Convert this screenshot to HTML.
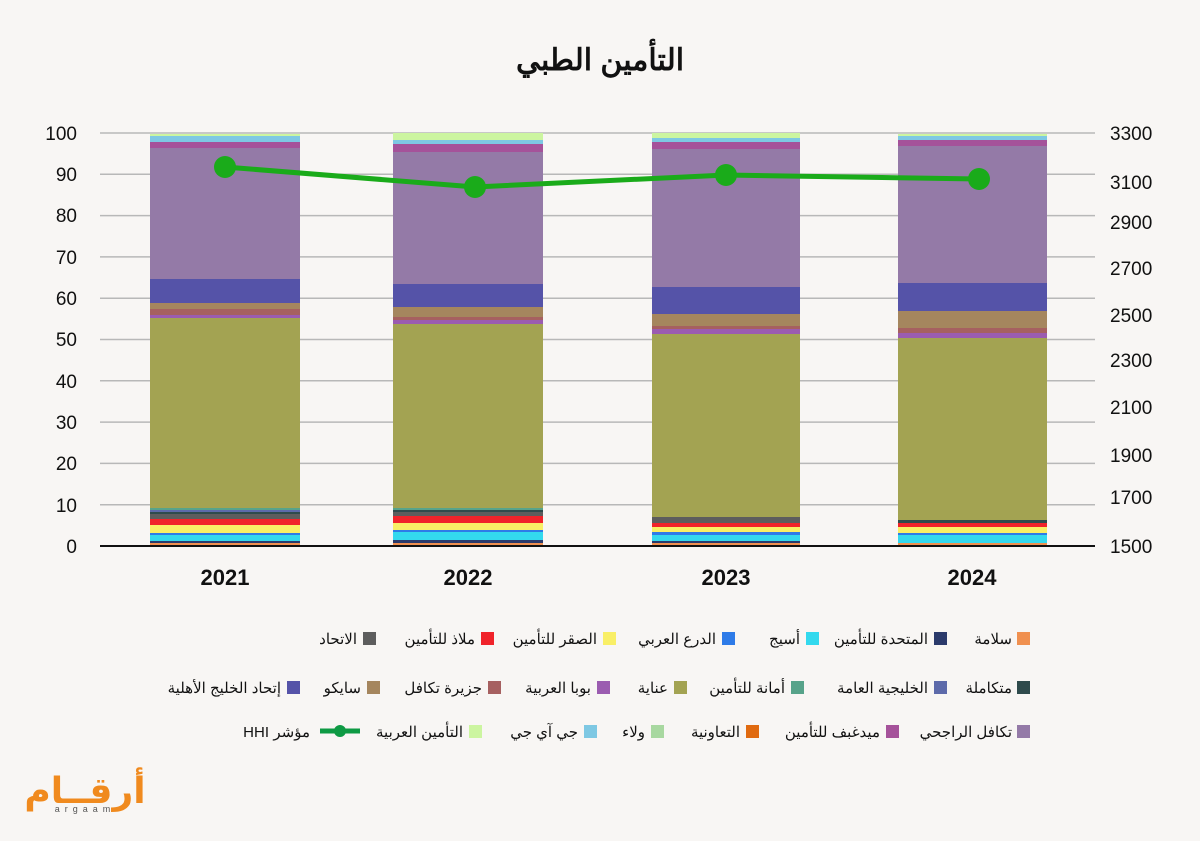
<!DOCTYPE html>
<html><head><meta charset="utf-8"><style>
body{margin:0;background:#f8f6f4;}
svg{display:block;font-family:"Liberation Sans","Noto Sans CJK SC",sans-serif;}
</style></head><body>
<svg width="1200" height="841" viewBox="0 0 1200 841" xmlns="http://www.w3.org/2000/svg">
<rect width="1200" height="841" fill="#f8f6f4"/>
<text x="600" y="70" text-anchor="middle" font-size="30" font-weight="bold" fill="#111">التأمين الطبي</text>
<g stroke="#b8b8b8" stroke-width="1.5">
<line x1="100" x2="1095" y1="133" y2="133"/><line x1="100" x2="1095" y1="174.3" y2="174.3"/><line x1="100" x2="1095" y1="215.6" y2="215.6"/><line x1="100" x2="1095" y1="256.9" y2="256.9"/><line x1="100" x2="1095" y1="298.2" y2="298.2"/><line x1="100" x2="1095" y1="339.5" y2="339.5"/><line x1="100" x2="1095" y1="380.8" y2="380.8"/><line x1="100" x2="1095" y1="422.1" y2="422.1"/><line x1="100" x2="1095" y1="463.4" y2="463.4"/><line x1="100" x2="1095" y1="504.7" y2="504.7"/>
</g>
<g font-size="19" fill="#111" text-anchor="end">
<text x="77" y="140">100</text><text x="77" y="181">90</text><text x="77" y="222">80</text><text x="77" y="264">70</text><text x="77" y="305">60</text><text x="77" y="346">50</text><text x="77" y="388">40</text><text x="77" y="429">30</text><text x="77" y="470">20</text><text x="77" y="512">10</text><text x="77" y="553">0</text>
</g>
<g font-size="19" fill="#111">
<text x="1110" y="140">3300</text><text x="1110" y="189">3100</text><text x="1110" y="229">2900</text><text x="1110" y="275">2700</text><text x="1110" y="322">2500</text><text x="1110" y="367">2300</text><text x="1110" y="414">2100</text><text x="1110" y="462">1900</text><text x="1110" y="504">1700</text><text x="1110" y="553">1500</text>
</g>
<g>
<rect x="150" width="150" y="543" height="3" fill="#f0904f"/>
<rect x="150" width="150" y="541" height="2" fill="#2b3a6b"/>
<rect x="150" width="150" y="535" height="6" fill="#33d9ee"/>
<rect x="150" width="150" y="533" height="2" fill="#2e7be8"/>
<rect x="150" width="150" y="525" height="8" fill="#f9ef66"/>
<rect x="150" width="150" y="519" height="6" fill="#f0232a"/>
<rect x="150" width="150" y="514" height="5" fill="#5d5d5d"/>
<rect x="150" width="150" y="512" height="2" fill="#2f4b4c"/>
<rect x="150" width="150" y="510" height="2" fill="#5d6aaa"/>
<rect x="150" width="150" y="508" height="2" fill="#57a38a"/>
<rect x="150" width="150" y="318" height="190" fill="#a3a352"/>
<rect x="150" width="150" y="315" height="3" fill="#9b5cb0"/>
<rect x="150" width="150" y="309" height="6" fill="#a66060"/>
<rect x="150" width="150" y="303" height="6" fill="#a5865e"/>
<rect x="150" width="150" y="279" height="24" fill="#5553a8"/>
<rect x="150" width="150" y="148" height="131" fill="#947aa7"/>
<rect x="150" width="150" y="142" height="6" fill="#a5529a"/>
<rect x="150" width="150" y="136" height="6" fill="#7ec8e3"/>
<rect x="150" width="150" y="134" height="2" fill="#ccf5a0"/>
</g>
<g>
<rect x="393" width="150" y="543" height="3" fill="#f0904f"/>
<rect x="393" width="150" y="540" height="3" fill="#2b3a6b"/>
<rect x="393" width="150" y="532" height="8" fill="#33d9ee"/>
<rect x="393" width="150" y="530" height="2" fill="#2e7be8"/>
<rect x="393" width="150" y="523" height="7" fill="#f9ef66"/>
<rect x="393" width="150" y="516" height="7" fill="#f0232a"/>
<rect x="393" width="150" y="512" height="4" fill="#5d5d5d"/>
<rect x="393" width="150" y="510" height="2" fill="#2f4b4c"/>
<rect x="393" width="150" y="508" height="2" fill="#57a38a"/>
<rect x="393" width="150" y="324" height="184" fill="#a3a352"/>
<rect x="393" width="150" y="320" height="4" fill="#9b5cb0"/>
<rect x="393" width="150" y="317" height="3" fill="#a66060"/>
<rect x="393" width="150" y="307" height="10" fill="#a5865e"/>
<rect x="393" width="150" y="284" height="23" fill="#5553a8"/>
<rect x="393" width="150" y="152" height="132" fill="#947aa7"/>
<rect x="393" width="150" y="144" height="8" fill="#a5529a"/>
<rect x="393" width="150" y="140" height="4" fill="#7ec8e3"/>
<rect x="393" width="150" y="133" height="7" fill="#ccf5a0"/>
</g>
<g>
<rect x="652" width="148" y="543" height="3" fill="#f0904f"/>
<rect x="652" width="148" y="541" height="2" fill="#2b3a6b"/>
<rect x="652" width="148" y="535" height="6" fill="#33d9ee"/>
<rect x="652" width="148" y="532" height="3" fill="#2e7be8"/>
<rect x="652" width="148" y="527" height="5" fill="#f9ef66"/>
<rect x="652" width="148" y="523" height="4" fill="#f0232a"/>
<rect x="652" width="148" y="517" height="6" fill="#5d5d5d"/>
<rect x="652" width="148" y="334" height="183" fill="#a3a352"/>
<rect x="652" width="148" y="329" height="5" fill="#9b5cb0"/>
<rect x="652" width="148" y="326" height="3" fill="#a66060"/>
<rect x="652" width="148" y="314" height="12" fill="#a5865e"/>
<rect x="652" width="148" y="287" height="27" fill="#5553a8"/>
<rect x="652" width="148" y="149" height="138" fill="#947aa7"/>
<rect x="652" width="148" y="142" height="7" fill="#a5529a"/>
<rect x="652" width="148" y="138" height="4" fill="#7ec8e3"/>
<rect x="652" width="148" y="133" height="5" fill="#ccf5a0"/>
</g>
<g>
<rect x="898" width="149" y="543" height="3" fill="#f0904f"/>
<rect x="898" width="149" y="535" height="8" fill="#33d9ee"/>
<rect x="898" width="149" y="533" height="2" fill="#2e7be8"/>
<rect x="898" width="149" y="527" height="6" fill="#f9ef66"/>
<rect x="898" width="149" y="523" height="4" fill="#f0232a"/>
<rect x="898" width="149" y="520" height="3" fill="#2f4b4c"/>
<rect x="898" width="149" y="338" height="182" fill="#a3a352"/>
<rect x="898" width="149" y="333" height="5" fill="#9b5cb0"/>
<rect x="898" width="149" y="328" height="5" fill="#a66060"/>
<rect x="898" width="149" y="311" height="17" fill="#a5865e"/>
<rect x="898" width="149" y="283" height="28" fill="#5553a8"/>
<rect x="898" width="149" y="146" height="137" fill="#947aa7"/>
<rect x="898" width="149" y="140" height="6" fill="#a5529a"/>
<rect x="898" width="149" y="136" height="4" fill="#7ec8e3"/>
<rect x="898" width="149" y="134" height="2" fill="#ccf5a0"/>
</g>
<line x1="100" x2="1095" y1="546" y2="546" stroke="#111" stroke-width="2"/>
<polyline points="225,167 475,187 726,175 979,179" fill="none" stroke="#1aab1a" stroke-width="5"/>
<g fill="#1aab1a"><circle cx="225" cy="167" r="11"/><circle cx="475" cy="187" r="11"/><circle cx="726" cy="175" r="11"/><circle cx="979" cy="179" r="11"/></g>
<g font-size="22" font-weight="bold" fill="#111" text-anchor="middle">
<text x="225" y="585">2021</text><text x="468" y="585">2022</text><text x="726" y="585">2023</text><text x="972" y="585">2024</text>
</g>
<g font-size="15" fill="#111" text-anchor="end">
<rect x="1017" y="632" width="13" height="13" fill="#f0904f"/><text x="1012" y="644">سلامة</text>
<rect x="934" y="632" width="13" height="13" fill="#2b3a6b"/><text x="928" y="644">المتحدة للتأمين</text>
<rect x="806" y="632" width="13" height="13" fill="#33d9ee"/><text x="800" y="644">أسيج</text>
<rect x="722" y="632" width="13" height="13" fill="#2e7be8"/><text x="716" y="644">الدرع العربي</text>
<rect x="603" y="632" width="13" height="13" fill="#f9ef66"/><text x="597" y="644">الصقر للتأمين</text>
<rect x="481" y="632" width="13" height="13" fill="#f0232a"/><text x="475" y="644">ملاذ للتأمين</text>
<rect x="363" y="632" width="13" height="13" fill="#5d5d5d"/><text x="357" y="644">الاتحاد</text>

<rect x="1017" y="681" width="13" height="13" fill="#2f4b4c"/><text x="1012" y="693">متكاملة</text>
<rect x="934" y="681" width="13" height="13" fill="#5d6aaa"/><text x="928" y="693">الخليجية العامة</text>
<rect x="791" y="681" width="13" height="13" fill="#57a38a"/><text x="785" y="693">أمانة للتأمين</text>
<rect x="674" y="681" width="13" height="13" fill="#a3a352"/><text x="668" y="693">عناية</text>
<rect x="597" y="681" width="13" height="13" fill="#9b5cb0"/><text x="591" y="693">بوبا العربية</text>
<rect x="488" y="681" width="13" height="13" fill="#a66060"/><text x="482" y="693">جزيرة تكافل</text>
<rect x="367" y="681" width="13" height="13" fill="#a5865e"/><text x="361" y="693">سايكو</text>
<rect x="287" y="681" width="13" height="13" fill="#5553a8"/><text x="281" y="693">إتحاد الخليج الأهلية</text>

<rect x="1017" y="725" width="13" height="13" fill="#947aa7"/><text x="1012" y="737">تكافل الراجحي</text>
<rect x="886" y="725" width="13" height="13" fill="#a5529a"/><text x="880" y="737">ميدغبف للتأمين</text>
<rect x="746" y="725" width="13" height="13" fill="#e06a10"/><text x="740" y="737">التعاونية</text>
<rect x="651" y="725" width="13" height="13" fill="#a8d8a0"/><text x="645" y="737">ولاء</text>
<rect x="584" y="725" width="13" height="13" fill="#7ec8e3"/><text x="578" y="737">جي آي جي</text>
<rect x="469" y="725" width="13" height="13" fill="#ccf5a0"/><text x="463" y="737">التأمين العربية</text>
<line x1="320" x2="360" y1="731" y2="731" stroke="#0e9a44" stroke-width="5"/><circle cx="340" cy="731" r="6" fill="#0e9a44"/>
<text x="310" y="737">مؤشر</text>
<text x="269" y="737">HHI</text>
</g>
<text x="85" y="803" text-anchor="middle" font-size="36" font-weight="bold" fill="#f08a1e" font-family="'Noto Sans CJK SC','DejaVu Sans',sans-serif">أرقــام</text>
<text x="85" y="812" text-anchor="middle" font-size="9" fill="#555" letter-spacing="5">argaam</text>
</svg>
</body></html>
